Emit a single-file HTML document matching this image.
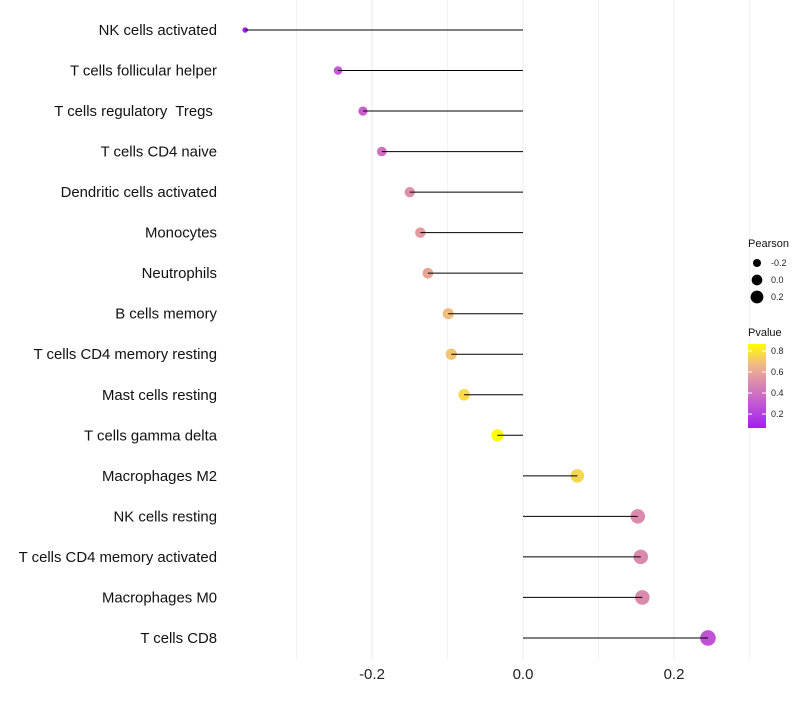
<!DOCTYPE html>
<html><head><meta charset="utf-8"><style>
body{margin:0;background:#fff;font-family:"Liberation Sans",sans-serif}
</style></head><body>
<svg id="c" width="800" height="700" xmlns="http://www.w3.org/2000/svg">
<defs><linearGradient id="pg" x1="0" y1="1" x2="0" y2="0">
<stop offset="0" stop-color="#a020f0"/><stop offset="0.3" stop-color="#c45ad2"/><stop offset="0.55" stop-color="#dc8cac"/><stop offset="0.75" stop-color="#f0b888"/><stop offset="1" stop-color="#ffff00"/>
</linearGradient></defs>
</svg>
<script>
const categories=["NK cells activated","T cells follicular helper","T cells regulatory  Tregs ","T cells CD4 naive","Dendritic cells activated","Monocytes","Neutrophils","B cells memory","T cells CD4 memory resting","Mast cells resting","T cells gamma delta","Macrophages M2","NK cells resting","T cells CD4 memory activated","Macrophages M0","T cells CD8"];
const pearson=[-0.368,-0.245,-0.212,-0.187,-0.150,-0.136,-0.126,-0.099,-0.095,-0.078,-0.034,0.072,0.152,0.156,0.158,0.245];
const pvalue=[0.07,0.3,0.33,0.4,0.52,0.56,0.6,0.68,0.7,0.76,0.88,0.75,0.5,0.5,0.5,0.28];
const xTicks=[-0.2,0.0,0.2];
const xTickLabels=["-0.2","0.0","0.2"];
const xMinor=[-0.3,-0.1,0.1,0.3];
const sizeLegend=[-0.2,0.0,0.2];
const colorLegend=[0.8,0.6,0.4,0.2];
const NS="http://www.w3.org/2000/svg";
const svg=document.getElementById('c');
const x=v=>523+v*755;
const y=i=>30+i*40.53;
const r=v=>1.07*Math.sqrt(Math.max(2.2,34.5+75.5*v));
function col(p){const t=Math.max(0,Math.min(1,(p-0.067)/0.8));
const st=[[0,[160,32,240]],[0.3,[196,90,210]],[0.55,[220,140,172]],[0.75,[240,184,136]],[1,[255,255,0]]];
for(let k=1;k<st.length;k++){if(t<=st[k][0]){const a=st[k-1],b=st[k],f=(t-a[0])/(b[0]-a[0]);return 'rgb('+a[1].map((c,j)=>Math.round(c+(b[1][j]-c)*f)).join(',')+')';}}return 'rgb(255,255,0)';}
function el(t,a,p){const e=document.createElementNS(NS,t);for(const k in a)e.setAttribute(k,a[k]);(p||svg).appendChild(e);return e;}
xMinor.forEach(v=>{const l=el('line',{x1:x(v),x2:x(v),y1:0,y2:660,stroke:'#f2f2f2','stroke-width':1});

});
xTicks.forEach((v,i)=>{const l=el('line',{x1:x(v),x2:x(v),y1:0,y2:660,stroke:'#ebebeb','stroke-width':1});


const t=el('text',{x:x(v),y:679,'text-anchor':'middle','font-size':15,fill:'#222'});t.textContent=xTickLabels[i];

});
categories.forEach((c,i)=>{
const t=el('text',{x:217,y:y(i)+5,'text-anchor':'end','font-size':14.9,fill:'#111'});t.textContent=c;
t.setAttributeNS('http://www.w3.org/XML/1998/namespace','xml:space','preserve');
t.style.whiteSpace='pre';


const d=el('circle',{cx:x(pearson[i]),cy:y(i),r:r(pearson[i]),fill:col(pvalue[i])});


const l=el('line',{x1:x(0),x2:x(pearson[i]),y1:y(i),y2:y(i),stroke:'#000','stroke-width':1});


});
const g=el('g',{});


const pt=el('text',{x:748,y:247,'font-size':11,fill:'#111'},g);pt.textContent='Pearson';


sizeLegend.forEach((v,i)=>{const cy=263+i*17;
const c=el('circle',{cx:757,cy:cy,r:r(v)*0.85,fill:'#000'},g);


const t=el('text',{x:771,y:cy+3,'font-size':9,fill:'#222'},g);t.textContent=v.toFixed(1);

});
const ct=el('text',{x:748,y:336,'font-size':11,fill:'#111'},g);ct.textContent='Pvalue';


const bar=el('rect',{x:748,y:344,width:18,height:84,fill:'url(#pg)'},g);


colorLegend.forEach(v=>{const yy=344+(0.867-v)/0.8*84;
el('line',{x1:748,x2:752,y1:yy,y2:yy,stroke:'#fff'},g);el('line',{x1:762,x2:766,y1:yy,y2:yy,stroke:'#fff'},g);
const t=el('text',{x:771,y:yy+3,'font-size':9,fill:'#222'},g);t.textContent=v.toFixed(1);

});
</script>
</body></html>
